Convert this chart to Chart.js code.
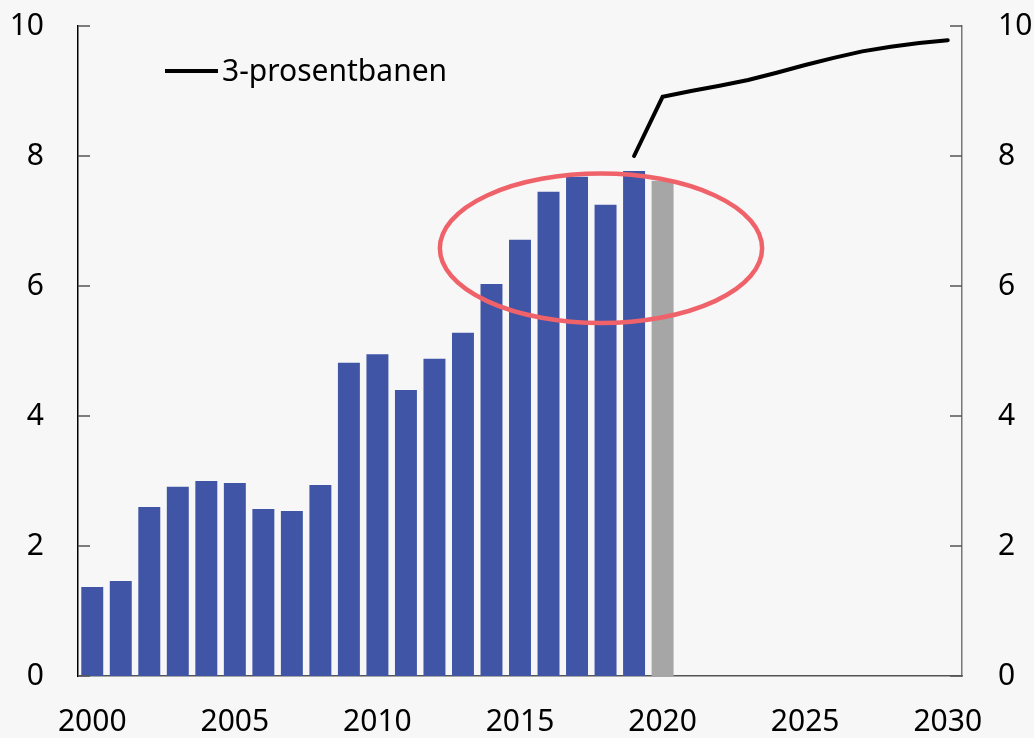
<!DOCTYPE html>
<html>
<head>
<meta charset="utf-8">
<script src="https://cdn.jsdelivr.net/npm/chart.js@4/dist/chart.umd.min.js"></script>
<style>
  html, body { margin: 0; padding: 0; background: #f7f7f7; }
  #wrap { width: 1034px; height: 738px; }
</style>
</head>
<body>
<div id="wrap"><canvas id="myChart" width="1034" height="738"></canvas></div>
<script>
// years on the x axis
var years = [];
for (var y = 2000; y <= 2030; y++) years.push(String(y));

// fund-spending bars, 2000-2019 actual, 2020 estimate (grey)
var barYears = ['2000','2001','2002','2003','2004','2005','2006','2007','2008','2009',
                '2010','2011','2012','2013','2014','2015','2016','2017','2018','2019','2020'];
var barValues = [1.37, 1.46, 2.60, 2.91, 3.00, 2.97, 2.57, 2.54, 2.94, 4.82,
                 4.95, 4.40, 4.88, 5.28, 6.03, 6.71, 7.45, 7.68, 7.25, 7.77, 7.62];

// 3 percent path
var pathYears = ['2019','2020','2021','2022','2023','2024','2025','2026','2027','2028','2029','2030'];
var pathValues = [8.0, 8.91, 9.0, 9.08, 9.17, 9.28, 9.40, 9.51, 9.61, 9.68, 9.74, 9.78];

var yTicks = [0, 2, 4, 6, 8, 10];
var xTickLabels = ['2000','2005','2010','2015','2020','2025','2030'];

var blue = '#4055a6';
var grey = '#a6a6a6';

function alignTo(keys, vals) {
  return years.map(function (yr) {
    var i = keys.indexOf(yr);
    return i >= 0 ? vals[i] : null;
  });
}

var barData = alignTo(barYears, barValues);
var barColors = years.map(function (yr) { return yr === '2020' ? grey : blue; });
var lineData = alignTo(pathYears, pathValues);

var font = { family: "'Noto Sans', 'Open Sans', sans-serif", size: 30 };

// inward tick marks, legend and the highlight ellipse
var extras = {
  id: 'extras',
  afterDatasetsDraw: function (chart) {
    var ctx = chart.ctx;
    var area = chart.chartArea;
    var ys = chart.scales.y;
    var xs = chart.scales.x;
    ctx.save();
    yTicks.forEach(function (v) {
      var py = ys.getPixelForValue(v);
      ctx.strokeStyle = '#555';
      ctx.lineWidth = 1.5;
      ctx.beginPath();
      ctx.moveTo(area.left, py); ctx.lineTo(area.left + 12, py);
      ctx.moveTo(area.right, py); ctx.lineTo(area.right - 12, py);
      ctx.stroke();
    });

    // ellipse round the recent years
    var cx = xs.getPixelForValue(17.84);
    var cy = ys.getPixelForValue(6.58);
    var rx = (xs.getPixelForValue(1) - xs.getPixelForValue(0)) * 5.65;
    var ry = ys.getPixelForValue(0) - ys.getPixelForValue(1.15);
    ctx.strokeStyle = '#f0626a';
    ctx.lineWidth = 4.5;
    ctx.beginPath();
    ctx.ellipse(cx, cy, rx, ry, 0, 0, Math.PI * 2);
    ctx.stroke();

    // legend
    var ds = chart.data.datasets[1];
    var lx = 165, ly = 71;
    ctx.strokeStyle = '#000';
    ctx.lineWidth = 4;
    ctx.beginPath();
    ctx.moveTo(lx, ly); ctx.lineTo(lx + 53, ly);
    ctx.stroke();
    ctx.fillStyle = '#000';
    ctx.font = font.size + 'px ' + font.family;
    ctx.textBaseline = 'middle';
    ctx.fillText(ds.label, lx + 57, ly + 1);
    ctx.restore();
  }
};

function noPad(s) { s.paddingTop = 0; s.paddingBottom = 0; s.paddingLeft = 0; s.paddingRight = 0; }

new Chart(document.getElementById('myChart'), {
  type: 'bar',
  data: {
    labels: years,
    datasets: [{
      type: 'bar',
      label: 'Bruk av fondsmidler',
      data: barData,
      backgroundColor: barColors,
      barPercentage: 0.77,
      categoryPercentage: 1.0,
      order: 2
    }, {
      type: 'line',
      label: '3-prosentbanen',
      data: lineData,
      borderColor: '#000',
      borderWidth: 4,
      pointRadius: 0,
      tension: 0,
      borderCapStyle: 'round',
      spanGaps: false,
      order: 1
    }]
  },
  options: {
    responsive: false,
    animation: false,
    layout: { padding: { top: 26, left: 0, right: 0, bottom: 0 } },
    plugins: {
      legend: { display: false },
      tooltip: { enabled: false }
    },
    scales: {
      x: {
        offset: true,
        grid: { display: false, drawTicks: false },
        border: { display: true, color: '#555', width: 1.5 },
        ticks: {
          autoSkip: false,
          maxRotation: 0,
          padding: 28,
          color: '#000',
          font: font,
          callback: function (val) {
            var lab = this.getLabelForValue(val);
            return xTickLabels.indexOf(lab) >= 0 ? lab : '';
          }
        },
        afterFit: function (s) { s.height = 62; noPad(s); }
      },
      y: {
        position: 'left',
        min: 0, max: 10,
        grid: { display: false, drawTicks: false },
        border: { display: true, color: '#000', width: 1.5 },
        ticks: { stepSize: 2, padding: 34, color: '#000', font: font },
        afterFit: function (s) { s.width = 78; noPad(s); }
      },
      y2: {
        position: 'right',
        min: 0, max: 10,
        grid: { display: false, drawTicks: false },
        border: { display: true, color: '#777', width: 1.5 },
        ticks: { stepSize: 2, padding: 36, color: '#000', font: font },
        afterFit: function (s) { s.width = 72; noPad(s); }
      }
    }
  },
  plugins: [extras]
});
</script>
</body>
</html>
